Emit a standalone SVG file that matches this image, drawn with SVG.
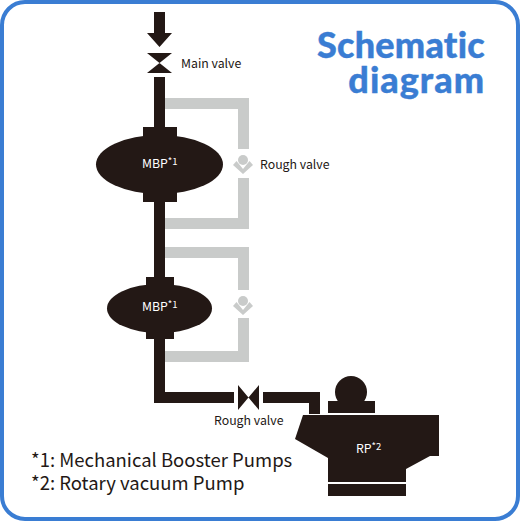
<svg xmlns="http://www.w3.org/2000/svg" width="520" height="521" viewBox="0 0 520 521">
<style>
.k{fill:#231815}
.g{fill:#c9cbca}
text{font-family:"Noto Sans CJK JP","Noto Sans",sans-serif;fill:#231815}
.l{font-size:12.300px}
.w{font-size:12.300px;fill:#fff}
.s{font-size:9.500px}
.n{font-size:18.500px}
.t{font-family:"Lato",sans-serif;font-weight:900;font-size:36px;fill:#3a7dd3;stroke:#3a7dd3;stroke-width:.4px;text-anchor:end;font-variant-ligatures:none}
</style>
<rect width="520" height="521" fill="#fff"/>
<rect x="2" y="2" width="516" height="517" rx="23" fill="none" stroke="#3a7dd3" stroke-width="4"/>
<g id="connectors">
<path class="g" d="M165 98H249V149H238V109H165ZM238 178H249V229H165V218H238ZM165 247H249V290H238V258H165ZM238 318H249V362H165V351H238Z"/>
<path class="k" d="M154 12H165V33H172L159.500 47L147 33H154Z"/>
<path class="k" d="M154 77H165V392H234V403H154Z"/>
<path class="k" d="M263 392H320V414H309V403H263Z"/>
</g>
<g id="main-valve">
<path class="k" d="M147 53H172L147 73H172Z"/>
<text class="l" x="181" y="68">Main valve</text>
</g>
<g id="rough-valve-1">
<circle class="g" cx="243" cy="160" r="5"/>
<path class="g" d="M236.500 161L243 169L249.500 161L253 165L243 174L233 165Z"/>
<text class="l" x="260" y="169">Rough valve</text>
</g>
<g id="rough-valve-2">
<circle class="g" cx="243" cy="301" r="5"/>
<path class="g" d="M236.500 302L243 310L249.500 302L253 306L243 315L233 306Z"/>
</g>
<g id="mbp-1">
<ellipse class="k" cx="159.500" cy="164.500" rx="63.500" ry="29.500"/>
<rect class="k" x="143" y="127" width="34" height="75"/>
<text class="w" x="142" y="168">MBP<tspan class="s" dy="-3">*1</tspan></text>
</g>
<g id="mbp-2">
<ellipse class="k" cx="159.500" cy="308.500" rx="52.500" ry="24.500"/>
<rect class="k" x="146" y="277" width="28" height="62"/>
<text class="w" x="142" y="311">MBP<tspan class="s" dy="-3">*1</tspan></text>
</g>
<g id="rough-valve-3">
<path class="k" d="M238 385L259 410V385L238 410Z"/>
<text class="l" x="214" y="425">Rough valve</text>
</g>
<g id="rp">
<circle class="k" cx="351" cy="392" r="16"/>
<rect class="k" x="328" y="401" width="47" height="12"/>
<path class="k" d="M303 415H439V456H430L406 469V482H328V458L295 439Z"/>
<rect class="k" x="328" y="484" width="78" height="12"/>
<text class="w" x="356" y="453">RP<tspan class="s" dy="-3">*2</tspan></text>
</g>
<g id="notes">
<text class="n" x="31" y="467">*1: Mechanical Booster Pumps</text>
<text class="n" x="31" y="490">*2: Rotary vacuum Pump</text>
</g>
<g id="title">
<text class="t" x="485" y="58" letter-spacing=".25">Schematic</text>
<text class="t" x="485" y="93" letter-spacing="1">diagram</text>
</g>
</svg>
